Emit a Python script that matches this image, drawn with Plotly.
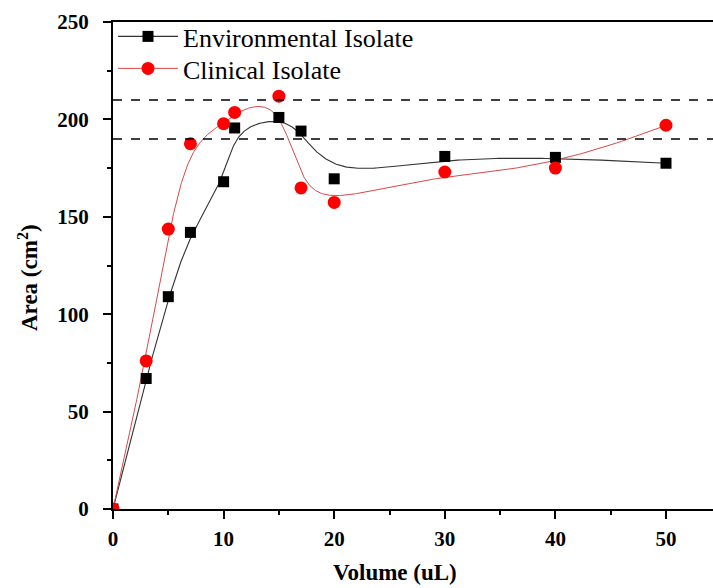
import numpy as np
import plotly.graph_objects as go

# ---- data ----
volume = [0, 3, 5, 7, 10, 11, 15, 17, 20, 30, 40, 50]
env_area = [0, 67, 109, 142, 168, 195.6, 201, 194, 169.5, 181, 180.5, 177.5]
clin_area = [0, 76, 143.7, 187.5, 197.8, 203.6, 211.9, 164.8, 157.4, 173, 175, 197]
ref_levels = [210, 190]
x_ticks = [0, 10, 20, 30, 40, 50]
y_ticks = [0, 50, 100, 150, 200, 250]
env_name = "Environmental Isolate"
clin_name = "Clinical Isolate"


def bspline(xs, ys, n_samples=500, k=3):
    """Clamped uniform cubic B-spline using the data points as control points."""
    P = np.column_stack([xs, ys]).astype(float)
    n = len(P)
    knots = np.concatenate([np.zeros(k + 1), np.arange(1, n - k), np.full(k + 1, n - k)]).astype(float)
    t = np.linspace(0, (n - k) * (1 - 1e-9), n_samples)
    N = np.array([((knots[i] <= t) & (t < knots[i + 1])).astype(float) for i in range(len(knots) - 1)])
    for p in range(1, k + 1):
        Nn = np.zeros((len(knots) - p - 1, len(t)))
        for i in range(len(knots) - p - 1):
            d1 = knots[i + p] - knots[i]
            d2 = knots[i + p + 1] - knots[i + 1]
            a = (t - knots[i]) / d1 * N[i] if d1 > 0 else 0
            b = (knots[i + p + 1] - t) / d2 * N[i + 1] if d2 > 0 else 0
            Nn[i] = a + b
        N = Nn
    C = N.T @ P
    return C[:, 0], C[:, 1]


ex, ey = bspline(volume, env_area)
cx, cy = bspline(volume, clin_area)

BLACK_LINE = "#333333"
RED_LINE = "#d84848"
RED = "#ff0000"
serif = "Liberation Serif"

fig = go.Figure()
# smoothed curves
fig.add_trace(go.Scatter(x=ex, y=ey, mode="lines", line=dict(color=BLACK_LINE, width=1.1),
                         showlegend=False, hoverinfo="skip"))
fig.add_trace(go.Scatter(x=cx, y=cy, mode="lines", line=dict(color=RED_LINE, width=1.0),
                         showlegend=False, hoverinfo="skip"))
# markers
fig.add_trace(go.Scatter(x=volume, y=env_area, mode="markers",
                         marker=dict(symbol="square", size=11, color="black"), showlegend=False))
fig.add_trace(go.Scatter(x=volume, y=clin_area, mode="markers",
                         marker=dict(symbol="circle", size=13, color=RED), showlegend=False))
# legend entries
fig.add_trace(go.Scatter(x=[None], y=[None], mode="lines+markers", name=env_name, legend="legend",
                         line=dict(color=BLACK_LINE, width=1.1),
                         marker=dict(symbol="square", size=11, color="black")))
fig.add_trace(go.Scatter(x=[None], y=[None], mode="lines+markers", name=clin_name, legend="legend2",
                         line=dict(color=RED_LINE, width=1.0),
                         marker=dict(symbol="circle", size=13, color=RED)))

for lvl in ref_levels:
    fig.add_shape(type="line", xref="paper", x0=0, x1=1, yref="y", y0=lvl, y1=lvl,
                  line=dict(color="black", width=1.5, dash="dash"))

tickfont = dict(family=serif, size=21, color="black", weight="bold")
titlefont = dict(family=serif, size=23, color="black")

legend_common = dict(x=0.0, xanchor="left", yanchor="top", bgcolor="rgba(0,0,0,0)", itemwidth=60,
                     font=dict(family=serif, size=26, color="black"))

fig.add_annotation(text="<b>Area (cm<sup>2</sup>)</b>", textangle=-90, xref="paper", yref="paper",
                   x=-0.142, y=0.476, xanchor="center", yanchor="middle", showarrow=False, font=titlefont)
fig.add_annotation(text="<b>Volume (uL)</b>", xref="paper", yref="paper",
                   x=0.47, y=-0.131, xanchor="center", yanchor="middle", showarrow=False, font=titlefont)

fig.update_layout(
    width=713, height=588,
    margin=dict(l=113, r=0, t=22, b=79),
    paper_bgcolor="white", plot_bgcolor="white",
    showlegend=True,
    legend=dict(y=1.0185, **legend_common),
    legend2=dict(y=0.9528, **legend_common),
    xaxis=dict(range=[0, 54.25], tickvals=x_ticks, showgrid=False, zeroline=False,
               showline=True, linecolor="black", linewidth=2, mirror=True,
               ticks="outside", ticklen=8, tickwidth=2, tickcolor="black",
               minor=dict(dtick=5, ticks="outside", ticklen=4, tickwidth=2, tickcolor="black", showgrid=False),
               tickfont=tickfont, ticklabelstandoff=2),
    yaxis=dict(range=[0, 250], tickvals=y_ticks, showgrid=False, zeroline=False,
               showline=True, linecolor="black", linewidth=2,
               ticks="outside", ticklen=8, tickwidth=2, tickcolor="black",
               minor=dict(dtick=25, ticks="outside", ticklen=4, tickwidth=2, tickcolor="black", showgrid=False),
               tickfont=tickfont, ticklabelstandoff=10),
)

fig.write_html("out.html")
